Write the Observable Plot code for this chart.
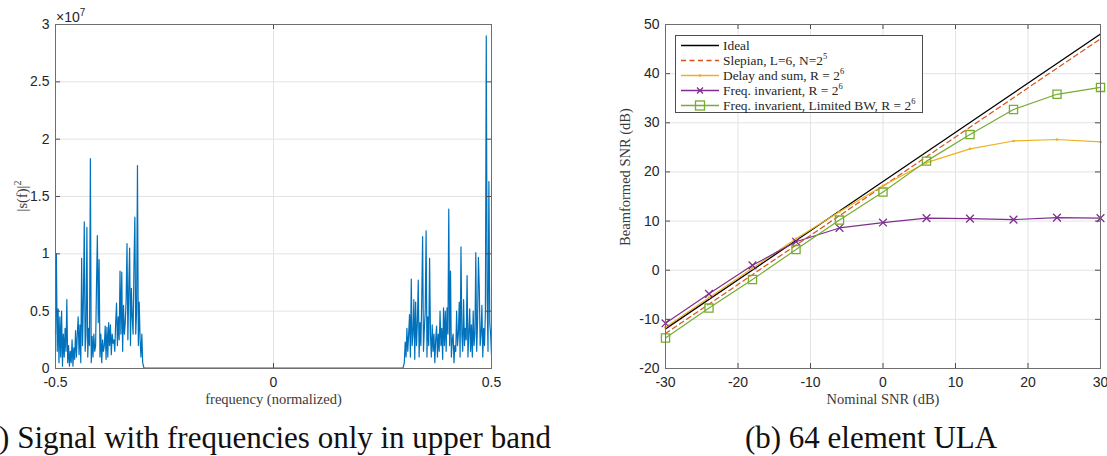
<!DOCTYPE html>
<html><head><meta charset="utf-8">
<script src="https://cdn.jsdelivr.net/npm/d3@7"></script>
<script src="https://cdn.jsdelivr.net/npm/@observablehq/plot@0.6"></script>
<style>
body{margin:0;background:#fff;overflow:hidden;width:1107px;height:456px;position:relative;font-family:"Liberation Sans",Arial,sans-serif;color:#262626}
.abs{position:absolute}
.serif{font-family:"Liberation Serif","Times New Roman",serif}
.ylab{position:absolute;width:200px;height:20px;line-height:20px;text-align:center;transform:rotate(-90deg);transform-origin:50% 50%;font-size:14.5px;color:#3a3a3a;white-space:nowrap}
#legend .row{position:absolute;left:0;height:15px;display:flex;align-items:center;white-space:nowrap}
#legend sup{font-size:8.5px;vertical-align:6px;line-height:0}
</style></head><body>
<div id="left" class="abs" style="left:0;top:0"></div>
<div id="right" class="abs" style="left:600px;top:0"></div>
<div class="abs" style="left:56px;top:7px;font-size:14px;color:#262626">×10<sup style="font-size:10px">7</sup></div>
<div class="ylab serif" style="left:-82px;top:186px">|s(f)|<sup style="font-size:10px">2</sup></div>
<div class="ylab serif" style="left:525px;top:167px">Beamformed SNR (dB)</div>
<div id="legend" class="abs serif" style="left:675px;top:35px;width:246px;height:76px;border:1px solid #4d4d4d;background:#fff;font-size:13.4px;color:#262626"></div>
<div class="abs serif" style="left:-37px;width:600px;top:420px;text-align:center;font-size:31px;color:#111;white-space:nowrap">(a) Signal with frequencies only in upper band</div>
<div class="abs serif" style="left:721px;width:300px;top:420px;text-align:center;font-size:31px;color:#111;white-space:nowrap">(b) 64 element ULA</div>
<script>
// ---------- Panel (a): power spectrum, values in units of 1e7 ----------
const lowBandStart = -0.5, highBandStart = 0.3, binStep = 0.002;
const lowBand = [0.3,1.0,0.15,0.52,0.05,0.45,0.1,0.5,0.02,0.3,0.1,0.35,0.15,0.6,0.05,0.2,0.02,0.15,0.05,0.25,
  0.02,0.18,0.08,0.33,0.1,0.3,0.45,0.12,0.38,0.05,0.96,0.2,0.6,1.28,0.15,0.3,1.23,0.1,0.35,0.2,
  1.83,0.05,0.28,0.1,0.3,0.15,0.2,0.72,1.16,0.4,0.95,0.1,0.3,0.05,0.25,0.15,0.2,0.37,0.08,0.36,
  0.1,0.4,0.2,0.38,0.12,0.3,0.22,0.25,0.15,0.4,0.57,0.2,0.45,0.25,0.85,0.3,0.84,0.15,0.55,0.3,
  0.4,0.6,1.09,0.25,0.7,1.05,0.2,0.7,0.45,0.3,0.9,1.32,0.3,0.5,1.77,0.2,0.58,0.25,0.1,0.3,0.05];
const highBand = [0.05,0.23,0.1,0.35,0.15,0.3,0.47,0.1,0.78,0.2,0.3,0.6,0.08,0.58,0.2,0.4,0.77,0.1,0.4,0.2,
  0.6,1.15,0.15,0.35,0.5,1.2,0.1,0.45,0.2,0.96,0.3,0.1,0.38,0.15,0.3,0.05,0.25,0.37,0.1,0.3,
  0.15,0.5,0.2,0.35,0.08,0.53,0.2,0.5,0.15,0.53,0.3,1.39,0.2,0.85,0.1,0.25,0.3,0.05,0.2,0.15,
  0.5,0.2,0.3,0.58,0.1,1.06,0.3,0.15,0.6,0.2,0.35,0.25,0.81,0.1,0.3,0.52,0.15,0.38,0.1,0.5,
  0.2,0.3,1.01,0.15,0.4,0.97,0.7,0.2,0.3,0.55,0.1,0.35,0.2,0.5,2.9,0.62,0.15,1.63,0.4,0.3,0.12];
const gapFreq = [-0.297, 0.297];
const gapPower = [0.003, 0.003];
const freqTicks = [-0.5, 0, 0.5];
const powerTicks = [0, 0.5, 1, 1.5, 2, 2.5, 3];

// ---------- Panel (b): beamformed SNR ----------
const snr = [-30,-24,-18,-12,-6,0,6,12,18,24,30];
const ideal = [-11.94,-5.94,0.06,6.06,12.06,18.06,24.06,30.06,36.06,42.06,48.06];
const slepian = [-12.9,-6.9,-0.9,5.1,11.1,17.1,23.1,29.1,35.1,41.1,47.1];
const delaySum = [-11.6,-5.6,0.4,6.4,11.9,17.2,21.9,24.7,26.3,26.6,26.1];
const freqInv = [-10.8,-4.8,1.0,5.8,8.6,9.7,10.6,10.5,10.3,10.7,10.6];
const freqInvLBW = [-13.8,-7.7,-1.9,4.2,10.2,15.9,22.2,27.6,32.7,35.8,37.2];
const snrTicks = [-30,-20,-10,0,10,20,30];
const outTicks = [-20,-10,0,10,20,30,40,50];
const seriesNames = ["Ideal","Slepian, L=6, N=2<sup>5</sup>","Delay and sum, R = 2<sup>6</sup>","Freq. invarient, R = 2<sup>6</sup>","Freq. invarient, Limited BW, R = 2<sup>6</sup>"];

const colBlue="#0072BD", colRed="#D95319", colYel="#EDB120", colPur="#7E2F8E", colGrn="#77AC30";
const gridCol="#e3e3e3", frameCol="#6e6e6e", tickCol="#4d4d4d";
const fmt = d => String(d);
const H = 410, MT = 24, MB = 42, FH = H - MT - MB;

function boxAxes(xt, yt){
  return [
    Plot.gridX(xt, {stroke: gridCol, strokeOpacity: 1}),
    Plot.gridY(yt, {stroke: gridCol, strokeOpacity: 1}),
  ];
}
function boxTicks(xt, yt, fw){
  return [
    Plot.tickX(xt, {x: d=>d, insetTop: FH-5, stroke: tickCol}),
    Plot.tickX(xt, {x: d=>d, insetBottom: FH-5, stroke: tickCol}),
    Plot.tickY(yt, {y: d=>d, insetRight: fw-5, stroke: tickCol}),
    Plot.tickY(yt, {y: d=>d, insetLeft: fw-5, stroke: tickCol}),
    Plot.frame({stroke: frameCol}),
    Plot.axisX(xt, {tickSize: 0, tickPadding: 9, tickFormat: fmt, label: null, fill: "#262626"}),
    Plot.axisY(yt, {tickSize: 0, tickPadding: 6, tickFormat: fmt, label: null, fill: "#262626"})
  ];
}
const svgStyle = {fontSize: "14px", fontFamily: "'Liberation Sans', Arial, sans-serif", background: "transparent", overflow: "visible", color: "#262626"};

const spec = [
  ...lowBand.map((p,i)=>({f: lowBandStart + i*binStep, p})),
  ...gapFreq.map((f,i)=>({f, p: gapPower[i]})),
  ...highBand.map((p,i)=>({f: highBandStart + i*binStep, p}))
];

const LW = 520, LML = 55, LMR = 29;
const left = Plot.plot({
  width: LW, height: H, marginLeft: LML, marginRight: LMR, marginTop: MT, marginBottom: MB,
  style: svgStyle,
  x: {domain: [-0.5, 0.5], axis: null},
  y: {domain: [0, 3], axis: null},
  marks: [
    ...boxAxes(freqTicks, powerTicks),
    Plot.line(spec, {x: "f", y: "p", stroke: colBlue, strokeWidth: 1.2}),
    ...boxTicks(freqTicks, powerTicks, LW-LML-LMR),
    Plot.text(["frequency (normalized)"], {frameAnchor: "bottom", dy: 35, fontFamily: "'Liberation Serif', serif", fontSize: 14.5, fill: "#3a3a3a"})
  ]
});
document.getElementById("left").append(left);

const RW = 507, RML = 65, RMR = 7;
const rows = (vals) => snr.map((x,i)=>({x, y: vals[i]}));
const right = Plot.plot({
  width: RW, height: H, marginLeft: RML, marginRight: RMR, marginTop: MT, marginBottom: MB,
  style: svgStyle,
  x: {domain: [-30, 30], axis: null},
  y: {domain: [-20, 50], axis: null},
  marks: [
    ...boxAxes(snrTicks, outTicks),
    Plot.line(rows(ideal), {x: "x", y: "y", stroke: "#000", strokeWidth: 1.3}),
    Plot.line(rows(slepian), {x: "x", y: "y", stroke: colRed, strokeWidth: 1.2, strokeDasharray: "5,3.5"}),
    Plot.line(rows(delaySum), {x: "x", y: "y", stroke: colYel, strokeWidth: 1.2}),
    Plot.dot(rows(delaySum), {x: "x", y: "y", r: 1.3, fill: colYel}),
    Plot.line(rows(freqInv), {x: "x", y: "y", stroke: colPur, strokeWidth: 1.2}),
    Plot.dot(rows(freqInv), {x: "x", y: "y", symbol: "times", r: 3.6, stroke: colPur, strokeWidth: 1.3}),
    Plot.line(rows(freqInvLBW), {x: "x", y: "y", stroke: colGrn, strokeWidth: 1.2}),
    Plot.dot(rows(freqInvLBW), {x: "x", y: "y", symbol: "square", r: 4.6, stroke: colGrn, fill: "none", strokeWidth: 1.3}),
    ...boxTicks(snrTicks, outTicks, RW-RML-RMR),
    Plot.text(["Nominal SNR (dB)"], {frameAnchor: "bottom", dy: 35, fontFamily: "'Liberation Serif', serif", fontSize: 14.5, fill: "#3a3a3a"})
  ]
});
document.getElementById("right").append(right);

// legend
const legendStyles = [
  {c: "#000", dash: null, m: null},
  {c: colRed, dash: "5,3.5", m: null},
  {c: colYel, dash: null, m: "dot"},
  {c: colPur, dash: null, m: "x"},
  {c: colGrn, dash: null, m: "sq"}
];
const leg = document.getElementById("legend");
seriesNames.forEach((name, i) => {
  const s = legendStyles[i];
  let marker = "";
  if (s.m === "dot") marker = `<circle cx="24" cy="7.5" r="1.3" fill="${s.c}"/>`;
  if (s.m === "x") marker = `<path d="M21 4.5L27 10.5M27 4.5L21 10.5" stroke="${s.c}" stroke-width="1.3"/>`;
  if (s.m === "sq") marker = `<rect x="19.5" y="3" width="9" height="9" fill="none" stroke="${s.c}" stroke-width="1.3"/>`;
  const row = document.createElement("div");
  row.className = "row";
  row.style.top = (2 + i*15) + "px";
  row.innerHTML = `<svg width="47" height="15" style="flex:none"><line x1="5" x2="43" y1="7.5" y2="7.5" stroke="${s.c}" stroke-width="1.3" ${s.dash ? `stroke-dasharray="${s.dash}"` : ""}/>${marker}</svg><span>${name}</span>`;
  leg.append(row);
});
</script>
</body></html>
